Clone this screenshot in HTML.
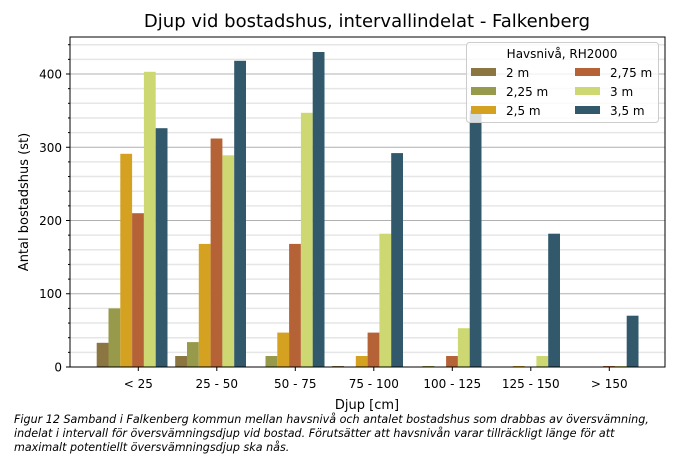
<!DOCTYPE html><html><head><meta charset="utf-8"><style>body{margin:0;background:#fff}svg{display:block}text{font-family:"DejaVu Sans","Liberation Sans",sans-serif}</style></head><body>
<svg width="700" height="459" xmlns="http://www.w3.org/2000/svg">
<rect width="700" height="459" fill="#fff"/>
<text x="367" y="27" font-size="18" text-anchor="middle">Djup vid bostadshus, intervallindelat - Falkenberg</text>
<g stroke="#e6e6e6" stroke-width="1.5">
<line x1="70" x2="665" y1="352.35" y2="352.35"/><line x1="70" x2="665" y1="337.7" y2="337.7"/><line x1="70" x2="665" y1="323.05" y2="323.05"/><line x1="70" x2="665" y1="308.4" y2="308.4"/>
<line x1="70" x2="665" y1="279.1" y2="279.1"/><line x1="70" x2="665" y1="264.45" y2="264.45"/><line x1="70" x2="665" y1="249.8" y2="249.8"/><line x1="70" x2="665" y1="235.15" y2="235.15"/>
<line x1="70" x2="665" y1="205.85" y2="205.85"/><line x1="70" x2="665" y1="191.2" y2="191.2"/><line x1="70" x2="665" y1="176.55" y2="176.55"/><line x1="70" x2="665" y1="161.9" y2="161.9"/>
<line x1="70" x2="665" y1="132.6" y2="132.6"/><line x1="70" x2="665" y1="117.95" y2="117.95"/><line x1="70" x2="665" y1="103.3" y2="103.3"/><line x1="70" x2="665" y1="88.65" y2="88.65"/>
<line x1="70" x2="665" y1="59.35" y2="59.35"/><line x1="70" x2="665" y1="44.7" y2="44.7"/>
</g>
<g stroke="#b0b0b0" stroke-width="1">
<line x1="70" x2="665" y1="293.75" y2="293.75"/><line x1="70" x2="665" y1="220.5" y2="220.5"/><line x1="70" x2="665" y1="147.25" y2="147.25"/><line x1="70" x2="665" y1="74" y2="74"/>
</g>
<g>
<rect x="96.7" y="342.8" width="11.8" height="24.2" fill="#8b7641"/>
<rect x="108.5" y="308.4" width="11.8" height="58.6" fill="#979a4a"/>
<rect x="120.3" y="153.8" width="11.8" height="213.2" fill="#d4a121"/>
<rect x="132.1" y="213.2" width="11.8" height="153.8" fill="#b56336"/>
<rect x="143.9" y="71.8" width="11.8" height="295.2" fill="#cdd872"/>
<rect x="155.7" y="128.2" width="11.8" height="238.8" fill="#31586b"/>
<rect x="175.2" y="356" width="11.8" height="11" fill="#8b7641"/>
<rect x="187" y="342.1" width="11.8" height="24.9" fill="#979a4a"/>
<rect x="198.8" y="243.9" width="11.8" height="123.1" fill="#d4a121"/>
<rect x="210.6" y="138.5" width="11.8" height="228.5" fill="#b56336"/>
<rect x="222.4" y="155.3" width="11.8" height="211.7" fill="#cdd872"/>
<rect x="234.2" y="60.8" width="11.8" height="306.2" fill="#31586b"/>
<rect x="265.5" y="356" width="11.8" height="11" fill="#979a4a"/>
<rect x="277.3" y="332.6" width="11.8" height="34.4" fill="#d4a121"/>
<rect x="289.1" y="243.9" width="11.8" height="123.1" fill="#b56336"/>
<rect x="300.9" y="112.8" width="11.8" height="254.2" fill="#cdd872"/>
<rect x="312.7" y="52" width="11.8" height="315" fill="#31586b"/>
<rect x="332.2" y="366" width="11.8" height="1" fill="#8b7641"/>
<rect x="355.8" y="356" width="11.8" height="11" fill="#d4a121"/>
<rect x="367.6" y="332.6" width="11.8" height="34.4" fill="#b56336"/>
<rect x="379.4" y="233.7" width="11.8" height="133.3" fill="#cdd872"/>
<rect x="391.2" y="153.1" width="11.8" height="213.9" fill="#31586b"/>
<rect x="422.5" y="366" width="11.8" height="1" fill="#979a4a"/>
<rect x="446.1" y="356" width="11.8" height="11" fill="#b56336"/>
<rect x="457.9" y="328.2" width="11.8" height="38.8" fill="#cdd872"/>
<rect x="469.7" y="110.6" width="11.8" height="256.4" fill="#31586b"/>
<rect x="512.8" y="366" width="11.8" height="1" fill="#d4a121"/>
<rect x="536.4" y="356" width="11.8" height="11" fill="#cdd872"/>
<rect x="548.2" y="233.7" width="11.8" height="133.3" fill="#31586b"/>
<rect x="603.1" y="366" width="11.8" height="1" fill="#b56336"/>
<rect x="614.9" y="366" width="11.8" height="1" fill="#cdd872"/>
<rect x="626.7" y="315.7" width="11.8" height="51.3" fill="#31586b"/>
</g>
<rect x="70" y="37" width="595" height="330" fill="none" stroke="#000" stroke-width="1"/>
<g stroke="#000">
<line x1="66" x2="70" y1="367" y2="367"/><line x1="66" x2="70" y1="293.75" y2="293.75"/><line x1="66" x2="70" y1="220.5" y2="220.5"/><line x1="66" x2="70" y1="147.25" y2="147.25"/><line x1="66" x2="70" y1="74" y2="74"/>
<line x1="68" x2="70" y1="352.35" y2="352.35"/><line x1="68" x2="70" y1="337.7" y2="337.7"/><line x1="68" x2="70" y1="323.05" y2="323.05"/><line x1="68" x2="70" y1="308.4" y2="308.4"/>
<line x1="68" x2="70" y1="279.1" y2="279.1"/><line x1="68" x2="70" y1="264.45" y2="264.45"/><line x1="68" x2="70" y1="249.8" y2="249.8"/><line x1="68" x2="70" y1="235.15" y2="235.15"/>
<line x1="68" x2="70" y1="205.85" y2="205.85"/><line x1="68" x2="70" y1="191.2" y2="191.2"/><line x1="68" x2="70" y1="176.55" y2="176.55"/><line x1="68" x2="70" y1="161.9" y2="161.9"/>
<line x1="68" x2="70" y1="132.6" y2="132.6"/><line x1="68" x2="70" y1="117.95" y2="117.95"/><line x1="68" x2="70" y1="103.3" y2="103.3"/><line x1="68" x2="70" y1="88.65" y2="88.65"/>
<line x1="68" x2="70" y1="59.35" y2="59.35"/><line x1="68" x2="70" y1="44.7" y2="44.7"/>
<line x1="138.3" x2="138.3" y1="367" y2="371"/><line x1="216.8" x2="216.8" y1="367" y2="371"/><line x1="295.3" x2="295.3" y1="367" y2="371"/><line x1="373.8" x2="373.8" y1="367" y2="371"/><line x1="452.3" x2="452.3" y1="367" y2="371"/><line x1="530.8" x2="530.8" y1="367" y2="371"/><line x1="609.3" x2="609.3" y1="367" y2="371"/>
</g>
<g font-size="12" text-anchor="end">
<text x="62" y="371.5">0</text><text x="62" y="298">100</text><text x="62" y="225">200</text><text x="62" y="152">300</text><text x="62" y="78.5">400</text>
</g>
<g font-size="12" text-anchor="middle">
<text x="138.3" y="388">&lt; 25</text><text x="216.8" y="388">25 - 50</text><text x="295.3" y="388">50 - 75</text><text x="373.8" y="388">75 - 100</text><text x="452.3" y="388">100 - 125</text><text x="530.8" y="388">125 - 150</text><text x="609.3" y="388">&gt; 150</text>
</g>
<text x="367" y="409" font-size="13" text-anchor="middle">Djup [cm]</text>
<text transform="translate(28,202) rotate(-90)" font-size="13" text-anchor="middle">Antal bostadshus (st)</text>
<rect x="466.5" y="42.5" width="192" height="80" rx="3" fill="#fff" fill-opacity="0.8" stroke="#ccc"/>
<g font-size="12">
<text x="562" y="58" text-anchor="middle">Havsnivå, RH2000</text>
<rect x="471" y="68" width="25" height="8" fill="#8b7641"/><text x="506" y="77">2 m</text>
<rect x="471" y="87" width="25" height="8" fill="#979a4a"/><text x="506" y="96">2,25 m</text>
<rect x="471" y="106" width="25" height="8" fill="#d4a121"/><text x="506" y="115">2,5 m</text>
<rect x="575" y="68" width="25" height="8" fill="#b56336"/><text x="610" y="77">2,75 m</text>
<rect x="575" y="87" width="25" height="8" fill="#cdd872"/><text x="610" y="96">3 m</text>
<rect x="575" y="106" width="25" height="8" fill="#31586b"/><text x="610" y="115">3,5 m</text>
</g>
<g font-size="11.15" font-style="italic">
<text x="14" y="423">Figur 12 Samband i Falkenberg kommun mellan havsnivå och antalet bostadshus som drabbas av översvämning,</text>
<text x="14" y="437">indelat i intervall för översvämningsdjup vid bostad. Förutsätter att havsnivån varar tillräckligt länge för att</text>
<text x="14" y="451">maximalt potentiellt översvämningsdjup ska nås.</text>
</g>
</svg>
</body></html>
